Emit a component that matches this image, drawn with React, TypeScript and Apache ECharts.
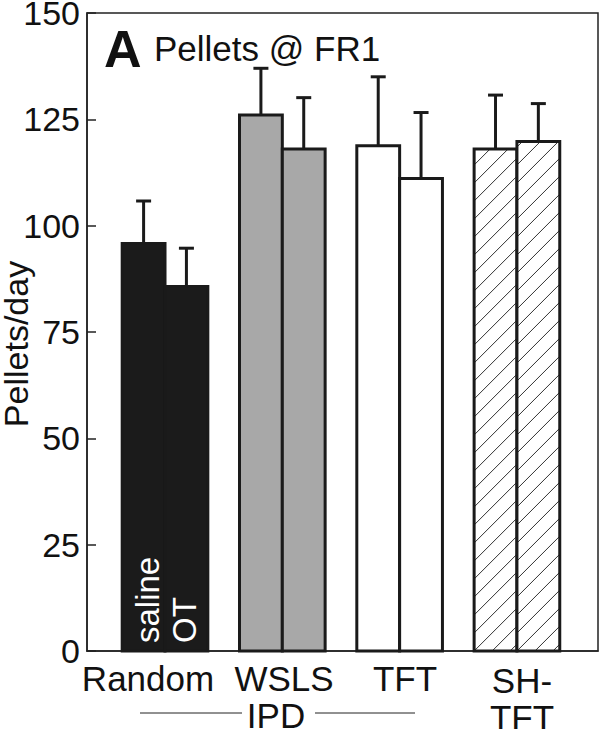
import React, { useEffect, useRef } from "react";
import * as echarts from "echarts";

const categories = ["Random", "WSLS", "TFT", "SH-TFT"];
const salineMean = [95.8, 126.0, 118.8, 118.0];
const salineErr = [10.0, 11.0, 16.2, 12.7];
const otMean = [85.7, 118.0, 111.1, 119.8];
const otErr = [9.0, 12.1, 15.5, 8.9];
const yTickStep = 25;
const yMax = 150;

const FONT = "'Liberation Sans', Arial, Helvetica, sans-serif";
const INK = "#1a1a1a";
const fills = ["#1b1b1b", "#a8a8a8", "#ffffff", "#ffffff"];
const hatched = [false, false, false, true];

export default function App() {
  const ref = useRef<HTMLDivElement>(null);
  useEffect(() => {
    if (!ref.current) return;
    const chart = echarts.init(ref.current, null, { renderer: "svg" });
    const data: number[][] = [];
    categories.forEach((_, i) => {
      data.push([i + 1, salineMean[i], salineErr[i], 0, i]);
      data.push([i + 1, otMean[i], otErr[i], 1, i]);
    });

    const renderItem = (params: any, api: any) => {
      const x = api.value(0);
      const mean = api.value(1);
      const err = api.value(2);
      const side = api.value(3);
      const g = api.value(4);
      const w = api.size([0.365, 0])[0];
      const base = api.coord([x, 0]);
      const cx = base[0];
      const by = base[1];
      const top = api.coord([x, mean])[1];
      const et = api.coord([x, mean + err])[1];
      const x0 = side === 0 ? cx - w : cx;
      const mid = x0 + w / 2;
      const children: any[] = [];
      children.push({
        type: "rect",
        shape: { x: x0, y: top, width: w, height: by - top },
        style: { fill: fills[g], stroke: null },
      });
      if (hatched[g]) {
        const step = 18;
        const cMin = x0 + top;
        const cMax = x0 + w + by;
        for (let c = x0 + by - step * 40; c <= cMax; c += step) {
          if (c <= cMin) continue;
          const xa = Math.max(x0, c - by);
          const xb = Math.min(x0 + w, c - top);
          if (xb <= xa) continue;
          children.push({
            type: "line",
            shape: { x1: xa, y1: c - xa, x2: xb, y2: c - xb },
            style: { stroke: "#333", lineWidth: 1 },
          });
        }
      }
      children.push({
        type: "rect",
        shape: { x: x0, y: top, width: w, height: by - top },
        style: { fill: null, stroke: INK, lineWidth: 3 },
      });
      children.push({
        type: "line",
        shape: { x1: mid, y1: top, x2: mid, y2: et },
        style: { stroke: INK, lineWidth: 3 },
      });
      children.push({
        type: "line",
        shape: { x1: mid - 7.5, y1: et, x2: mid + 7.5, y2: et },
        style: { stroke: INK, lineWidth: 3 },
      });
      return { type: "group", children };
    };

    const txt = (text: string, x: number, y: number, size: number, extra: any = {}) => ({
      type: "text",
      x,
      y,
      z: 100,
      ...extra,
      style: {
        text,
        fontSize: size,
        fontFamily: FONT,
        fill: "#111",
        textAlign: "center",
        textVerticalAlign: "middle",
        ...(extra.style || {}),
      },
    });

    chart.setOption({
      animation: false,
      grid: {
        left: 87,
        right: 2,
        top: 13,
        bottom: 78,
        show: true,
        borderColor: "#222",
        borderWidth: 1.5,
        backgroundColor: "transparent",
        containLabel: false,
        outerBoundsMode: "none",
      },
      xAxis: {
        type: "value",
        min: 0.335,
        max: 4.691,
        axisLine: { show: true, lineStyle: { color: "#222", width: 1.5 } },
        axisTick: { show: false },
        axisLabel: { show: false },
        splitLine: { show: false },
      },
      yAxis: {
        type: "value",
        min: 0,
        max: yMax,
        interval: yTickStep,
        name: "Pellets/day",
        nameLocation: "middle",
        nameGap: 54,
        nameMoveOverlap: false,
        nameTextStyle: { fontSize: 34, color: "#111", fontFamily: FONT, padding: [0, 24, 0, 0] },
        axisLine: { show: true, lineStyle: { color: "#222", width: 1.5 } },
        axisTick: { show: true, inside: true, length: 9, lineStyle: { color: "#222", width: 1.5 } },
        axisLabel: { fontSize: 34, color: "#111", fontFamily: FONT, margin: 7 },
        splitLine: { show: false },
      },
      series: [
        {
          type: "custom",
          renderItem,
          data,
          encode: { x: 0, y: 1 },
          clip: false,
          z: 2,
        },
      ],
      graphic: [
        txt("A", 104, 49, 52, { style: { textAlign: "left", fontWeight: "bold" } }),
        txt("Pellets @ FR1", 154, 48, 35, { style: { textAlign: "left" } }),
        txt(categories[0], 148, 678, 35),
        txt(categories[1], 284, 678, 35),
        txt(categories[2], 405, 678, 35),
        txt("SH-", 522, 680, 35),
        txt("TFT", 522, 717, 35),
        txt("IPD", 276, 715, 35),
        { type: "line", z: 100, shape: { x1: 140, y1: 713, x2: 242, y2: 713 }, style: { stroke: "#222", lineWidth: 1 } },
        { type: "line", z: 100, shape: { x1: 315, y1: 713, x2: 415, y2: 713 }, style: { stroke: "#222", lineWidth: 1 } },
        txt("saline", 147, 643, 33, { rotation: Math.PI / 2, style: { textAlign: "left", fill: "#fff" } }),
        txt("OT", 184, 643, 33, { rotation: Math.PI / 2, style: { textAlign: "left", fill: "#fff" } }),
      ],
    });
    return () => chart.dispose();
  }, []);
  return (
    <div
      ref={ref}
      style={{ position: "absolute", left: 0, top: 0, width: 600, height: 729 }}
    />
  );
}
